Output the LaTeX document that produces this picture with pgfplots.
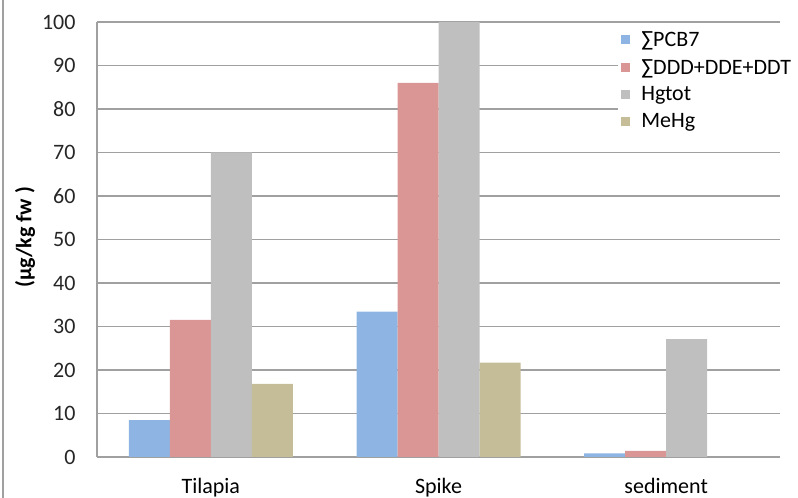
\documentclass[border=0pt]{standalone}
\usepackage{fontspec}
\setmainfont{Carlito}
\usepackage{pgfplots}
\pgfplotsset{compat=1.18}

\definecolor{pcbblue}{RGB}{141,180,226}
\definecolor{ddtred}{RGB}{218,150,148}
\definecolor{hggray}{RGB}{191,191,191}
\definecolor{mehggold}{RGB}{196,189,151}
\definecolor{gridc}{RGB}{160,160,160}

\begin{document}
\begin{tikzpicture}
\useasboundingbox (0,0) rectangle (798bp,498bp);
% chart area frame edge
\draw[gridc, line width=1.5bp] (3bp,0) -- (3bp,498bp);
\begin{axis}[
  at={(97bp,41bp)}, anchor=south west,
  scale only axis, width=683bp, height=435bp,
  ybar=0pt, bar width=41bp,
  xmin=-0.5, xmax=2.5, ymin=0, ymax=100,
  xtick={0,1,2}, xticklabels={Tilapia,Spike,sediment},
  ytick={0,10,...,100},
  ymajorgrids, grid style={gridc, line width=1.2bp},
  axis x line*=bottom, axis y line*=left,
  axis line style={gridc, line width=1.2bp},
  major tick length=0pt,
  /pgf/number format/assume math mode=true,
  tick label style={font=\fontsize{22bp}{26bp}\selectfont, text=black!85},
  yticklabel style={xshift=-18bp},
  xticklabel style={anchor=base, yshift=-36bp, text=black},
  ylabel={(µg/kg fw )},
  ylabel style={font=\bfseries\fontsize{22bp}{26bp}\selectfont,
    at={(rel axis cs:-0.1054,0.505)}, anchor=center},
  legend style={at={(rel axis cs:0.763,0.99)}, anchor=north west,
    draw=none, fill=white, font=\fontsize{22bp}{27bp}\selectfont,
    inner sep=3bp, row sep=7.3bp},
  legend cell align=left,
  legend image code/.code={%
    \path[#1, draw=none] (0bp,-4.5bp) rectangle (9bp,4.5bp);
    \path (18bp,0bp);},
]
\addplot[fill=pcbblue, draw=none] coordinates {(0,8.5) (1,33.4) (2,0.85)};
\addplot[fill=ddtred, draw=none] coordinates {(0,31.5) (1,86) (2,1.4)};
\addplot[fill=hggray, draw=none] coordinates {(0,70) (1,100) (2,27.1)};
\addplot[fill=mehggold, draw=none] coordinates {(0,16.8) (1,21.7)};
\legend{∑PCB7,∑DDD+DDE+DDT,Hgtot,MeHg}
\end{axis}
\end{tikzpicture}
\end{document}
